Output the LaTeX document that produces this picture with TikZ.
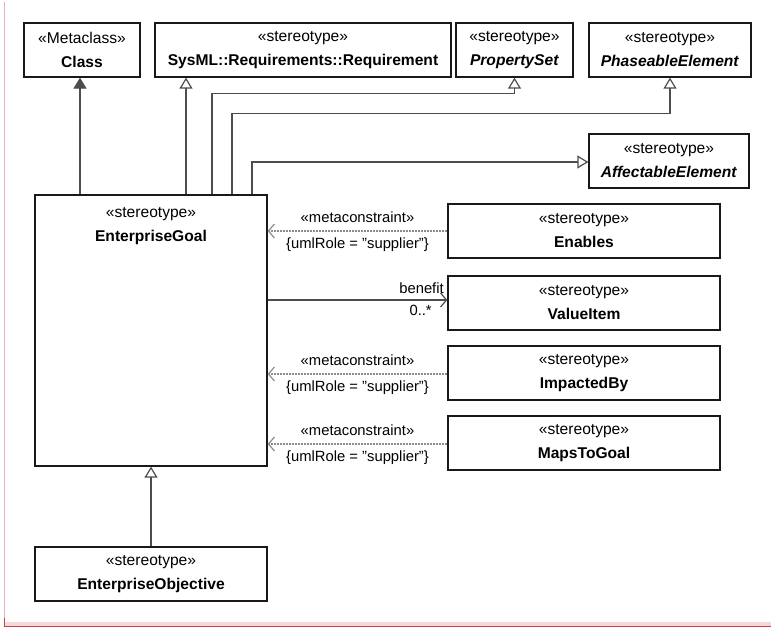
\documentclass[tikz,border=0pt]{standalone}
\usepackage{fontspec}
\setmainfont{Liberation Sans}
\usetikzlibrary{arrows.meta,positioning,calc}

\definecolor{linegray}{HTML}{4D4D4D}
\definecolor{dashgray}{HTML}{8C8C8C}
\definecolor{framepink}{HTML}{EBB0B5}
\definecolor{bandpink}{HTML}{F6D8DA}
\definecolor{framered}{HTML}{C94045}

\begin{document}
\begin{tikzpicture}[
    x=1pt,y=-1pt,
    stbox/.style={rectangle,draw=black!90,line width=1.3pt,minimum height=54pt,align=center,inner sep=0pt,font=\fontsize{15.6}{24}\selectfont},
    lbl/.style={font=\fontsize{14.8}{18}\selectfont,inner sep=1pt},
    gen/.style={draw=linegray,line width=1.2pt,-{Triangle[open,length=11pt,width=13pt]}},
    meta/.style={draw=linegray,line width=1.2pt,-{Triangle[length=11pt,width=13pt]}},
    dep/.style={draw=dashgray,line width=1.2pt,dash pattern=on 2pt off 1pt,-{Straight Barb[length=6pt,width=14pt,line width=1.2pt]},tips=on proper draw},
    assoc/.style={draw=linegray,line width=1.2pt,-{Straight Barb[length=6pt,width=14pt]}}
]
    \useasboundingbox (0,0) rectangle (771,628);

    % frame
    \draw[framepink,line width=1pt] (4,2) -- (4,623);
    \fill[bandpink] (4,622) rectangle (771,627);
    \draw[framered,line width=1.5pt] (4,626.5) -- (771,626.5);
    \draw[framered,line width=1pt] (4.5,618) -- (4.5,627);

    % top row
    \node[stbox,minimum width=116pt] (cls) at (82,50) {«Metaclass»\\\textbf{Class}};
    \node[stbox,minimum width=296pt] (req) at (303,50) {«stereotype»\\\textbf{SysML::Requirements::Requirement}};
    \node[stbox,minimum width=117pt] (pset) at (514.5,50) {«stereotype»\\\textbf{\textit{PropertySet}}};
    \node[stbox,minimum width=162pt] (phase) at (670,50) {«stereotype»\\\textbf{\textit{PhaseableElement}}};
    \node[stbox,minimum width=160pt] (affect) at (669,161) {«stereotype»\\\textbf{\textit{AffectableElement}}};

    % goal
    \node[stbox,minimum width=232pt,minimum height=271pt] (goal) at (151,330.5) {};
    \node[stbox,draw=none,anchor=north] (goaltxt) at ([yshift=-4pt]goal.north) {«stereotype»\\\textbf{EnterpriseGoal}};

    % right column
    \node[stbox,minimum width=272pt] (enables) at (584,231) {«stereotype»\\\textbf{Enables}};
    \node[stbox,minimum width=272pt] (value) at (584,303) {«stereotype»\\\textbf{ValueItem}};
    \node[stbox,minimum width=272pt] (impact) at (584,373) {«stereotype»\\\textbf{ImpactedBy}};
    \node[stbox,minimum width=272pt] (maps) at (584,443) {«stereotype»\\\textbf{MapsToGoal}};

    % objective
    \node[stbox,minimum width=232pt] (obj) at (151,574) {«stereotype»\\\textbf{EnterpriseObjective}};

    % generalizations
    \draw[meta] ([xshift=-2pt]cls.south |- goal.north) -- ([xshift=-2pt]cls.south);
    \draw[gen] ([xshift=-117pt]req.south |- goal.north) -- ([xshift=-117pt]req.south);
    \draw[gen] ([xshift=61pt]goal.north) -- ++(0,-101) -| (pset.south);
    \draw[gen] ([xshift=81pt]goal.north) -- ++(0,-81) -| (phase.south);
    \draw[gen] ([xshift=101pt]goal.north) |- ([yshift=-1pt]affect.west);
    \draw[gen] (obj.north) -- (goal.south);

    % metaconstraints
    \draw[dep] (enables.west) -- (enables.west -| goal.east)
        node[lbl,midway,above=7pt] {«metaconstraint»}
        node[lbl,midway,below=5pt] {\{umlRole = "supplier"\}};
    \draw[dep] ([yshift=-1pt]impact.west) -- ([yshift=-1pt]impact.west -| goal.east)
        node[lbl,midway,above=7pt] {«metaconstraint»}
        node[lbl,midway,below=5pt] {\{umlRole = "supplier"\}};
    \draw[dep] ([yshift=-1pt]maps.west) -- ([yshift=-1pt]maps.west -| goal.east)
        node[lbl,midway,above=7pt] {«metaconstraint»}
        node[lbl,midway,below=5pt] {\{umlRole = "supplier"\}};

    % association
    \draw[assoc] ([yshift=3pt]value.west -| goal.east) -- ([yshift=3pt]value.west)
        node[lbl,pos=1,above left=5pt and 2pt,anchor=south east] {benefit}
        node[lbl,pos=1,below left=4pt and 14pt,anchor=north east] {0..*};
\end{tikzpicture}
\end{document}
